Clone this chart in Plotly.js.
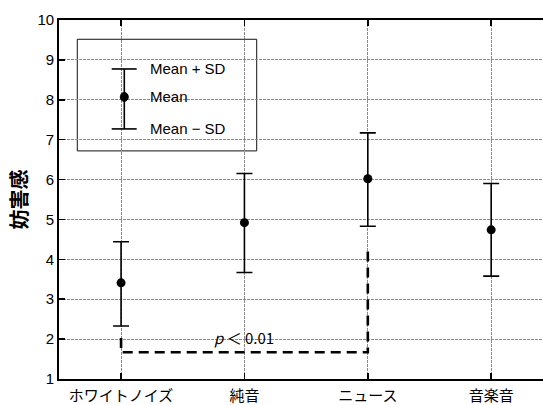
<!DOCTYPE html>
<html><head><meta charset="utf-8">
<script src="https://cdn.plot.ly/plotly-3.0.1.min.js"></script>
<style>body{margin:0;background:#fff}#chart{width:543px;height:405px}</style>
</head><body><div id="chart"></div>
<script>
const categories = ["ホワイトノイズ", "純音", "ニュース", "音楽音"];
const means = [3.41, 4.92, 6.02, 4.74];
const plusSD = [4.44, 6.15, 7.17, 5.90];
const minusSD = [2.33, 3.67, 4.83, 3.58];
const yTicks = [1, 2, 3, 4, 5, 6, 7, 8, 9, 10];
// significance bracket between ホワイトノイズ and ニュース
const bracketX = [0, 0, 2, 2];
const bracketY = [2.03, 1.67, 1.67, 4.28];
const sigLabel = "<i>p</i> ＜ 0.01";
const sigLabelY = 2.03;

const xIdx = categories.map((c, i) => i);
const font = "Liberation Sans, Noto Sans CJK JP, sans-serif";
const cjk = "Noto Sans CJK JP, sans-serif";

const traces = [
  {
    x: xIdx, y: means, type: "scatter", mode: "markers",
    marker: {color: "#000", size: 9},
    error_y: {
      type: "data", symmetric: false,
      array: plusSD.map((v, i) => v - means[i]),
      arrayminus: means.map((m, i) => m - minusSD[i]),
      color: "#000", thickness: 1.6, width: 8
    },
    hoverinfo: "skip", showlegend: false
  },
  {
    x: bracketX, y: bracketY, type: "scatter", mode: "lines",
    line: {color: "#000", width: 2.6, dash: "10px,6px"},
    hoverinfo: "skip", showlegend: false
  }
];

// legend box (paper coords)
const L = {x0: 0.0378, x1: 0.4085, y0: 0.6354, y1: 0.9463, bx: 0.1349, cx0: 0.1089, cx1: 0.1605, top: 0.8636, mid: 0.7857, bot: 0.6966, tx: 0.1845};
const shapes = [
  {type: "rect", xref: "paper", yref: "paper", x0: L.x0, x1: L.x1, y0: L.y0, y1: L.y1, line: {color: "#111", width: 1}, fillcolor: "#fff", layer: "below"},
  {type: "line", xref: "paper", yref: "paper", x0: L.bx, x1: L.bx, y0: L.bot, y1: L.top, line: {color: "#000", width: 1.6}},
  {type: "line", xref: "paper", yref: "paper", x0: L.cx0, x1: L.cx1, y0: L.top, y1: L.top, line: {color: "#000", width: 1.6}},
  {type: "line", xref: "paper", yref: "paper", x0: L.cx0, x1: L.cx1, y0: L.bot, y1: L.bot, line: {color: "#000", width: 1.6}},
  {type: "circle", xref: "paper", yref: "paper", xsizemode: "pixel", ysizemode: "pixel", xanchor: L.bx, yanchor: L.mid, x0: -4, x1: 4, y0: -4.5, y1: 4.5, fillcolor: "#000", line: {color: "#000", width: 1}}
];
const annotations = [
  {xref: "paper", yref: "paper", x: L.tx, y: L.top, xanchor: "left", yanchor: "middle", showarrow: false, text: "Mean + SD", font: {family: font, size: 15, color: "#000"}},
  {xref: "paper", yref: "paper", x: L.tx, y: L.mid, xanchor: "left", yanchor: "middle", showarrow: false, text: "Mean", font: {family: font, size: 15, color: "#000"}},
  {xref: "paper", yref: "paper", x: L.tx, y: L.bot, xanchor: "left", yanchor: "middle", showarrow: false, text: "Mean − SD", font: {family: font, size: 15, color: "#000"}},
  {x: 1, y: sigLabelY, xref: "x", yref: "y", showarrow: false, text: sigLabel, font: {family: cjk, size: 15, color: "#000"}, yanchor: "middle"}
];

const layout = {
  width: 543, height: 405,
  margin: {l: 59, r: 0, t: 20, b: 26, pad: 0},
  paper_bgcolor: "#fff", plot_bgcolor: "#fff",
  font: {family: font, color: "#000", size: 14},
  xaxis: {
    range: [-0.503, 3.42], tickvals: xIdx, ticktext: categories,
    showline: true, linecolor: "#000", linewidth: 1.8, mirror: "ticks",
    ticks: "inside", ticklen: 6, tickwidth: 1.5, tickcolor: "#000",
    showgrid: true, gridcolor: "#8a8a8a", gridwidth: 1, griddash: "3px,1px",
    zeroline: false, tickfont: {family: cjk, size: 15}, ticklabelstandoff: 2
  },
  yaxis: {
    range: [1, 10], tickvals: yTicks,
    showline: true, linecolor: "#000", linewidth: 1.8,
    ticks: "inside", ticklen: 6, tickwidth: 1.5, tickcolor: "#000",
    showgrid: true, gridcolor: "#8a8a8a", gridwidth: 1, griddash: "3px,1px",
    zeroline: false, tickfont: {family: font, size: 15},
    title: {text: "<b>妨害感</b>", font: {family: cjk, size: 20}, standoff: 4}
  },
  shapes: shapes, annotations: annotations, showlegend: false
};
Plotly.newPlot("chart", traces, layout, {staticPlot: true, displayModeBar: false});
</script></body></html>
